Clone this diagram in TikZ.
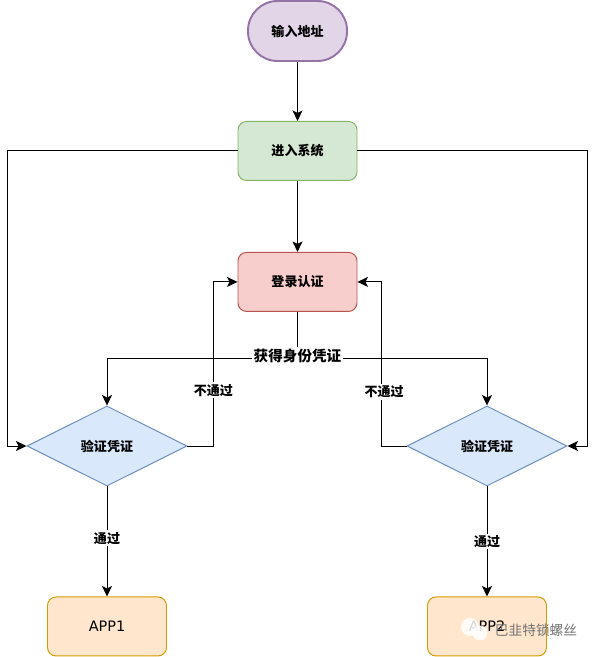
\documentclass[tikz,border=0pt]{standalone}
\usepackage{fontspec}
\usepackage{xcolor}
\usepackage{tikz}
\usetikzlibrary{arrows.meta,positioning,shapes.geometric}
\setmainfont{DejaVu Sans}
\newfontfamily\cjk{Noto Sans CJK SC}
\definecolor{purpleFill}{HTML}{E1D5E7}
\definecolor{purpleLine}{HTML}{9673A6}
\definecolor{greenFill}{HTML}{D5E8D4}
\definecolor{greenLine}{HTML}{82B366}
\definecolor{redFill}{HTML}{F8CECC}
\definecolor{redLine}{HTML}{B85450}
\definecolor{blueFill}{HTML}{DAE8FC}
\definecolor{blueLine}{HTML}{6C8EBF}
\definecolor{orangeFill}{HTML}{FFE6CC}
\definecolor{orangeLine}{HTML}{D79B00}

\begin{document}
\begin{tikzpicture}[
    node distance=1.18cm and 1.05cm,
    every node/.style={font=\cjk\bfseries\fontsize{7.4}{9}\selectfont},
    start/.style={rectangle,draw=purpleLine,fill=purpleFill,line width=1.1pt,rounded corners=0.59cm,minimum width=1.98cm,minimum height=1.2cm},
    block/.style={rectangle,draw=greenLine,fill=greenFill,line width=0.55pt,rounded corners=0.17cm,minimum width=2.38cm,minimum height=1.18cm},
    login/.style={block,draw=redLine,fill=redFill},
    check/.style={diamond,draw=blueLine,fill=blueFill,line width=0.55pt,aspect=2,inner sep=0pt,minimum width=3.2cm,minimum height=1.6cm},
    app/.style={block,draw=orangeLine,fill=orangeFill,font=\fontsize{8.2}{10}\selectfont},
    label/.style={fill=white,inner sep=1pt},
    arrow/.style={-{Stealth[length=2.1mm,width=2mm,inset=0.5mm]},line width=0.55pt}
]
\useasboundingbox (0,0) rectangle (11.92,-13.14);

\node[start] (addr) at (5.95,-0.62) {输入地址};
\node[block, below=of addr] (system) {进入系统};
\node[login, below=1.42cm of system] (auth) {登录认证};
\coordinate[below=0.94cm of auth] (branch);
\node[check] (checkL) at (2.14,-8.92) {验证凭证};
\node[check] (checkR) at (9.74,-8.92) {验证凭证};
\node[app, below=2.2cm of checkL] (app1) {APP1};
\node[app, below=2.2cm of checkR] (app2) {APP2};

\coordinate (sideL) at (0.14,-8.92);
\coordinate (sideR) at (11.74,-8.92);

\draw[arrow] (addr) -- (system);
\draw[arrow] (system) -- (auth);
\draw[arrow] (system.west) -| (sideL) -- (checkL.west);
\draw[arrow] (system.east) -| (sideR) -- (checkR.east);
\draw[arrow] (auth.south) -- (branch) -| (checkL.north);
\draw[arrow] (branch) -| (checkR.north);
\draw[arrow] (checkL.east) -- ++(0.52,0) |- node[pos=0.17,label] {不通过} (auth.west);
\draw[arrow] (checkR.west) -- ++(-0.5,0) |- node[pos=0.165,label,xshift=0.05cm] {不通过} (auth.east);
\draw[arrow] (checkL) -- node[pos=0.47,label] {通过} (app1);
\draw[arrow] (checkR) -- node[pos=0.5,label] {通过} (app2);
\node[label,font=\cjk\bfseries\fontsize{8.3}{10}\selectfont,anchor=center] (tokens) at ([yshift=0.06cm]branch) {获得身份凭证};

% watermark over the corner
\node[circle,fill=white,fill opacity=0.85,inner sep=0pt,minimum size=0.36cm] (iconA) at (9.4,-12.54) {};
\node[circle,fill=white,fill opacity=0.85,inner sep=0pt,minimum size=0.3cm] (iconB) at (9.6,-12.66) {};
\node[text=black!55,font=\cjk\fontsize{7.8}{10}\selectfont,inner sep=0pt] (mark) at (10.72,-12.6) {巴韭特锁螺丝};
\end{tikzpicture}
\end{document}
